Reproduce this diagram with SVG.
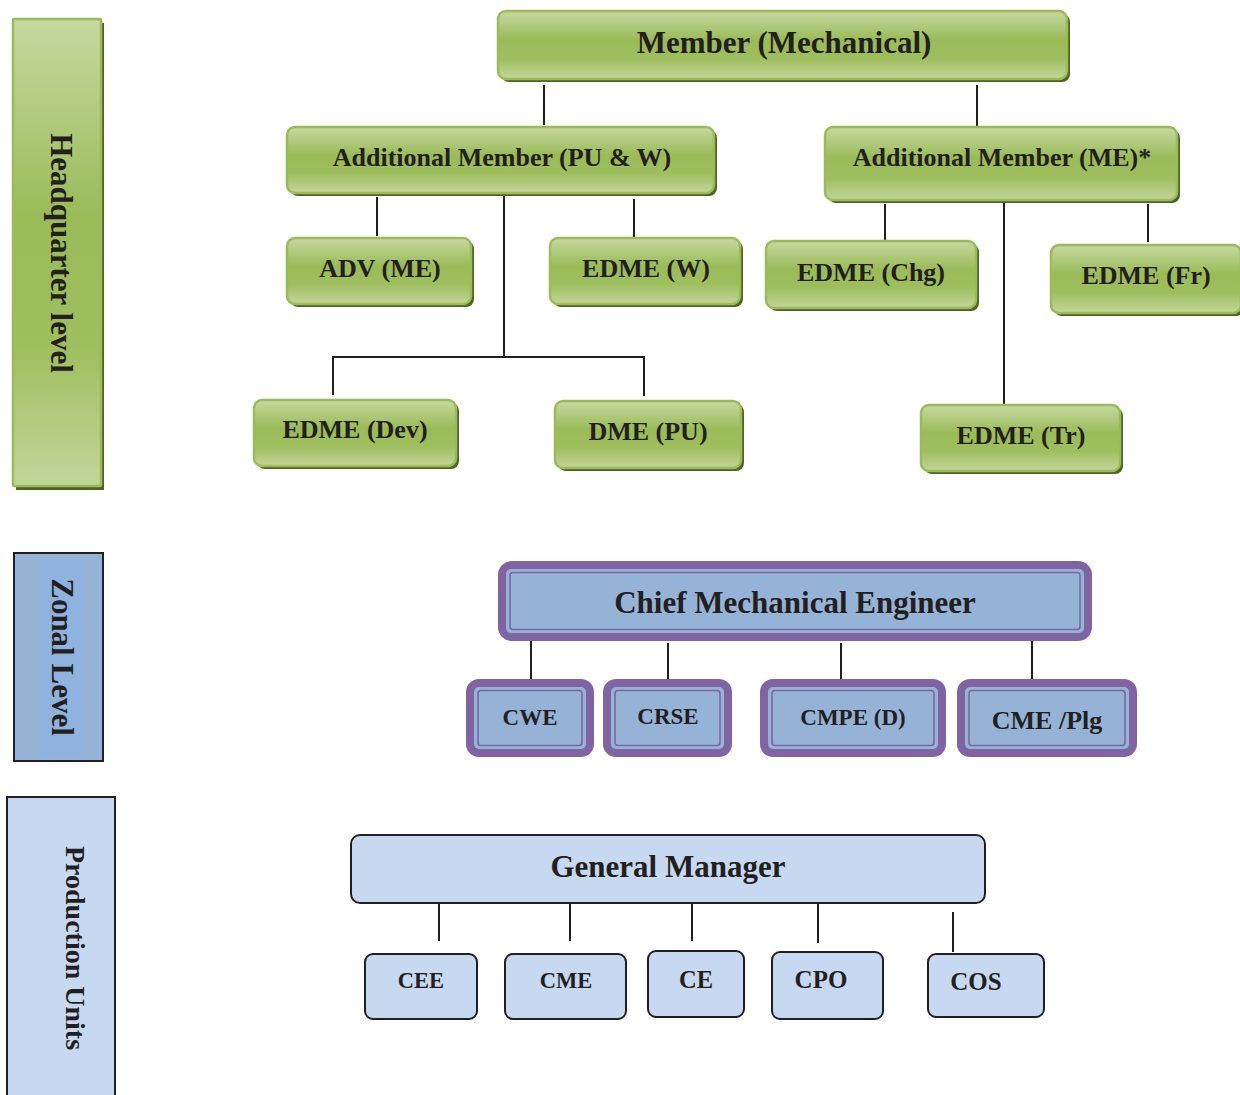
<svg xmlns="http://www.w3.org/2000/svg" width="1240" height="1095" viewBox="0 0 1240 1095">
<defs>
<linearGradient id="g" x1="0" y1="0" x2="0" y2="1">
<stop offset="0" stop-color="#c6d9a1"/>
<stop offset="0.42" stop-color="#9bbb59"/>
<stop offset="0.7" stop-color="#9fbe5e"/>
<stop offset="1" stop-color="#c3d69b"/>
</linearGradient>
<style>
.t{font-family:"Liberation Serif","Times New Roman",serif;font-weight:bold;fill:#231f20;text-anchor:middle}
.sh{fill:#4f6228}
.gb{fill:url(#g);stroke:#9bbb59;stroke-width:2.5}
.po{fill:#8064a2}
.pb{fill:#95b3d7}
.pi{fill:none;stroke:#8064a2;stroke-width:1.6}
.lb{fill:#c6d9f1;stroke:#231f20;stroke-width:2}
.c{stroke:#231f20;stroke-width:2;fill:none}
</style>
</defs>
<rect width="1240" height="1095" fill="#ffffff"/>

<!-- level bars -->
<g id="hq-level">
<rect class="sh" x="16" y="23" width="88" height="467"/>
<rect class="gb" x="13" y="19" width="88" height="467" rx="1"/>
<text class="t" font-size="31" transform="translate(61,253) rotate(90)" y="10">Headquarter level</text>
</g>
<g id="zonal-level">
<rect x="14" y="553" width="89" height="208" fill="#95b3d7" stroke="#231f20" stroke-width="2"/>
<rect x="40" y="560" width="43" height="197" fill="#8fb3de"/>
<text class="t" font-size="31" transform="translate(62,657) rotate(90)" y="10">Zonal Level</text>
</g>
<g id="pu-level">
<rect x="7" y="797" width="108" height="310" fill="#c6d9f1" stroke="#231f20" stroke-width="2"/>
<text class="t" font-size="28" transform="translate(75,948) rotate(90)" y="9">Production Units</text>
</g>

<!-- connectors -->
<g id="connectors">
<line class="c" x1="544" y1="85" x2="544" y2="125"/>
<line class="c" x1="977" y1="85" x2="977" y2="127"/>
<line class="c" x1="377" y1="197" x2="377" y2="236"/>
<line class="c" x1="634" y1="199" x2="634" y2="238"/>
<polyline class="c" points="504,196 504,357"/>
<polyline class="c" points="333,395 333,357 644,357 644,396"/>
<line class="c" x1="885" y1="204" x2="885" y2="241"/>
<line class="c" x1="1148" y1="204" x2="1148" y2="242"/>
<line class="c" x1="1004" y1="200" x2="1004" y2="405"/>
<line class="c" x1="531" y1="641" x2="531" y2="679"/>
<line class="c" x1="668" y1="643" x2="668" y2="683"/>
<line class="c" x1="841" y1="643" x2="841" y2="679"/>
<line class="c" x1="1032" y1="638" x2="1032" y2="679"/>
<line class="c" x1="439" y1="904" x2="439" y2="941"/>
<line class="c" x1="570" y1="904" x2="570" y2="941"/>
<line class="c" x1="692" y1="904" x2="692" y2="941"/>
<line class="c" x1="818" y1="903" x2="818" y2="943"/>
<line class="c" x1="953" y1="912" x2="953" y2="952"/>
</g>

<!-- HQ nodes -->
<g id="member-mechanical">
<rect class="sh" x="501" y="14" width="569" height="68" rx="8"/>
<rect class="gb" x="498" y="11" width="569" height="68" rx="8"/>
<text class="t" font-size="31" x="784" y="53">Member (Mechanical)</text>
</g>
<g id="am-puw">
<rect class="sh" x="290" y="130" width="427" height="66" rx="8"/>
<rect class="gb" x="287" y="127" width="427" height="66" rx="8"/>
<text class="t" font-size="26" x="502" y="166">Additional Member (PU &amp; W)</text>
</g>
<g id="am-me">
<rect class="sh" x="828" y="130" width="352" height="73" rx="8"/>
<rect class="gb" x="825" y="127" width="352" height="73" rx="8"/>
<text class="t" font-size="26" x="1002" y="166">Additional Member (ME)*</text>
</g>
<g id="adv-me">
<rect class="sh" x="290" y="241" width="184" height="66" rx="8"/>
<rect class="gb" x="287" y="238" width="184" height="66" rx="8"/>
<text class="t" font-size="26" x="380" y="277">ADV (ME)</text>
</g>
<g id="edme-w">
<rect class="sh" x="553" y="241" width="190" height="66" rx="8"/>
<rect class="gb" x="550" y="238" width="190" height="66" rx="8"/>
<text class="t" font-size="26" x="646" y="277">EDME (W)</text>
</g>
<g id="edme-chg">
<rect class="sh" x="769" y="244" width="210" height="67" rx="8"/>
<rect class="gb" x="766" y="241" width="210" height="67" rx="8"/>
<text class="t" font-size="26" x="871" y="281">EDME (Chg)</text>
</g>
<g id="edme-fr">
<rect class="sh" x="1054" y="248" width="190" height="68" rx="8"/>
<rect class="gb" x="1051" y="245" width="190" height="68" rx="8"/>
<text class="t" font-size="26" x="1146" y="284">EDME (Fr)</text>
</g>
<g id="edme-dev">
<rect class="sh" x="257" y="403" width="202" height="66" rx="8"/>
<rect class="gb" x="254" y="400" width="202" height="66" rx="8"/>
<text class="t" font-size="26" x="355" y="438">EDME (Dev)</text>
</g>
<g id="dme-pu">
<rect class="sh" x="558" y="404" width="186" height="67" rx="8"/>
<rect class="gb" x="555" y="401" width="186" height="67" rx="8"/>
<text class="t" font-size="26" x="648" y="440">DME (PU)</text>
</g>
<g id="edme-tr">
<rect class="sh" x="924" y="408" width="199" height="66" rx="8"/>
<rect class="gb" x="921" y="405" width="199" height="66" rx="8"/>
<text class="t" font-size="26" x="1021" y="444">EDME (Tr)</text>
</g>

<!-- Zonal nodes -->
<g id="cme-zonal">
<rect class="po" x="498" y="561" width="594" height="80" rx="14"/>
<rect class="pb" x="506" y="569" width="578" height="64" rx="5"/>
<rect class="pi" x="510" y="572.5" width="570" height="57" rx="3"/>
<text class="t" font-size="31" x="795" y="613">Chief Mechanical Engineer</text>
</g>
<g id="cwe">
<rect class="po" x="466" y="679" width="128" height="78" rx="13"/>
<rect class="pb" x="474" y="687" width="112" height="62" rx="5"/>
<rect class="pi" x="478" y="690.5" width="104" height="55" rx="3"/>
<text class="t" font-size="23" x="530" y="725">CWE</text>
</g>
<g id="crse">
<rect class="po" x="603" y="679" width="129" height="78" rx="13"/>
<rect class="pb" x="611" y="687" width="113" height="62" rx="5"/>
<rect class="pi" x="615" y="690.5" width="105" height="55" rx="3"/>
<text class="t" font-size="23" x="668" y="724">CRSE</text>
</g>
<g id="cmpe-d">
<rect class="po" x="760" y="679" width="186" height="78" rx="13"/>
<rect class="pb" x="768" y="687" width="170" height="62" rx="5"/>
<rect class="pi" x="772" y="690.5" width="162" height="55" rx="3"/>
<text class="t" font-size="23" x="853" y="725">CMPE (D)</text>
</g>
<g id="cme-plg">
<rect class="po" x="957" y="679" width="180" height="78" rx="13"/>
<rect class="pb" x="965" y="687" width="164" height="62" rx="5"/>
<rect class="pi" x="969" y="690.5" width="156" height="55" rx="3"/>
<text class="t" font-size="26" x="1047" y="729">CME /Plg</text>
</g>

<!-- Production unit nodes -->
<g id="general-manager">
<rect class="lb" x="351" y="835" width="634" height="68" rx="9"/>
<text class="t" font-size="31" x="668" y="877">General Manager</text>
</g>
<g id="cee">
<rect class="lb" x="365" y="954" width="112" height="65" rx="8"/>
<text class="t" font-size="22.5" x="421" y="988">CEE</text>
</g>
<g id="cme-pu">
<rect class="lb" x="505" y="954" width="121" height="65" rx="8"/>
<text class="t" font-size="22.5" x="566" y="988">CME</text>
</g>
<g id="ce">
<rect class="lb" x="648" y="951" width="96" height="66" rx="8"/>
<text class="t" font-size="24.5" x="696" y="988">CE</text>
</g>
<g id="cpo">
<rect class="lb" x="772" y="952" width="111" height="67" rx="8"/>
<text class="t" font-size="25" x="821" y="988">CPO</text>
</g>
<g id="cos">
<rect class="lb" x="928" y="954" width="116" height="63" rx="8"/>
<text class="t" font-size="25" x="976" y="990">COS</text>
</g>
</svg>
